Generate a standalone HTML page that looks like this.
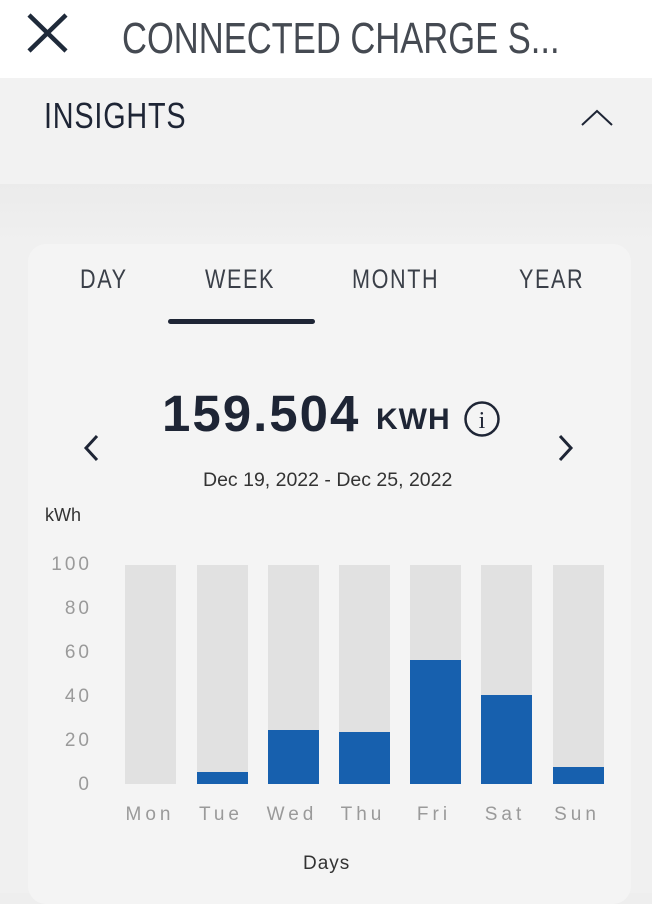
<!DOCTYPE html>
<html><head><style>
body{margin:0;width:652px;height:893px;overflow:hidden;background:#eeeeee;font-family:"Liberation Sans",sans-serif;position:relative}
.a{position:absolute}
.cond{transform:scaleX(0.8);transform-origin:left top;white-space:nowrap}
.bar{position:absolute;top:565px;height:219px;width:51px;background:#e1e1e1}
.bar i{position:absolute;left:0;right:0;bottom:0;background:#1760ae}
.yl{position:absolute;right:560px;color:#9a9a9a;font-size:19px;letter-spacing:3px}
.xl{position:absolute;top:804px;color:#9a9a9a;font-size:19px;letter-spacing:4px;width:80px;text-align:center}
.tab{font-size:27px;color:#3a3f48;letter-spacing:2px}
</style></head><body>
<div class="a" style="left:0;top:0;width:652px;height:78px;background:#fff"></div>
<svg class="a" style="left:26px;top:13px" width="44" height="40"><path d="M3 2L40 38M40 2L3 38" stroke="#1f2a3a" stroke-width="4.5"/></svg>
<div class="a cond" style="left:122px;top:14px;font-size:44px;color:#454a52;transform:scaleX(0.785)">CONNECTED CHARGE S...</div>
<div class="a" style="left:0;top:78px;width:652px;height:106px;background:#f2f2f2"></div>
<div class="a cond" style="left:44px;top:95px;font-size:36px;color:#1e2535;letter-spacing:1px">INSIGHTS</div>
<svg class="a" style="left:580px;top:108px" width="34" height="20"><path d="M2 17L17 3L32 17" stroke="#1e2535" stroke-width="2" fill="none"/></svg>
<div class="a" style="left:0;top:184px;width:652px;height:709px;background:linear-gradient(#ebebeb,#f0f0f0 60px)"></div>
<div class="a" style="left:28px;top:244px;width:603px;height:660px;background:#f4f4f4;border-radius:18px"></div>
<div class="a cond tab" style="left:80px;top:264px">DAY</div>
<div class="a cond tab" style="left:205px;top:264px">WEEK</div>
<div class="a cond tab" style="left:352px;top:264px">MONTH</div>
<div class="a cond tab" style="left:519px;top:264px">YEAR</div>
<div class="a" style="left:168px;top:319px;width:147px;height:5px;border-radius:3px;background:#1e2535"></div>
<div class="a" style="left:162px;top:384px;font-size:51px;font-weight:bold;color:#1e2535;letter-spacing:2px;white-space:nowrap">159.504</div>
<div class="a" style="left:376px;top:403px;font-size:30px;font-weight:bold;color:#1e2535;letter-spacing:1px">KWH</div>
<svg class="a" style="left:463px;top:400px" width="38" height="38"><circle cx="19" cy="19" r="16.5" stroke="#1e2535" stroke-width="2.5" fill="none"/><text x="19" y="28" text-anchor="middle" font-family="Liberation Serif" font-size="24" fill="#1e2535">i</text></svg>
<svg class="a" style="left:82px;top:433px" width="20" height="30"><path d="M15 3L4 15L15 27" stroke="#1e2535" stroke-width="3" fill="none"/></svg>
<svg class="a" style="left:555px;top:433px" width="20" height="30"><path d="M5 3L16 15L5 27" stroke="#1e2535" stroke-width="3" fill="none"/></svg>
<div class="a" style="left:203px;top:469px;font-size:19.5px;color:#333">Dec 19, 2022 - Dec 25, 2022</div>
<div class="a" style="left:45px;top:505px;font-size:18px;color:#333">kWh</div>
<div class="yl" style="top:554px">100</div>
<div class="yl" style="top:598px">80</div>
<div class="yl" style="top:642px">60</div>
<div class="yl" style="top:686px">40</div>
<div class="yl" style="top:730px">20</div>
<div class="yl" style="top:774px">0</div>
<div class="bar" style="left:125px"></div>
<div class="bar" style="left:197px"><i style="height:12px"></i></div>
<div class="bar" style="left:268px"><i style="height:54px"></i></div>
<div class="bar" style="left:339px"><i style="height:52px"></i></div>
<div class="bar" style="left:410px"><i style="height:124px"></i></div>
<div class="bar" style="left:481px"><i style="height:89px"></i></div>
<div class="bar" style="left:553px"><i style="height:17px"></i></div>
<div class="xl" style="left:110px">Mon</div>
<div class="xl" style="left:181px">Tue</div>
<div class="xl" style="left:252px">Wed</div>
<div class="xl" style="left:323px">Thu</div>
<div class="xl" style="left:394px">Fri</div>
<div class="xl" style="left:465px">Sat</div>
<div class="xl" style="left:537px">Sun</div>
<div class="a" style="left:303px;top:853px;font-size:19px;color:#333;letter-spacing:1px">Days</div>
</body></html>
